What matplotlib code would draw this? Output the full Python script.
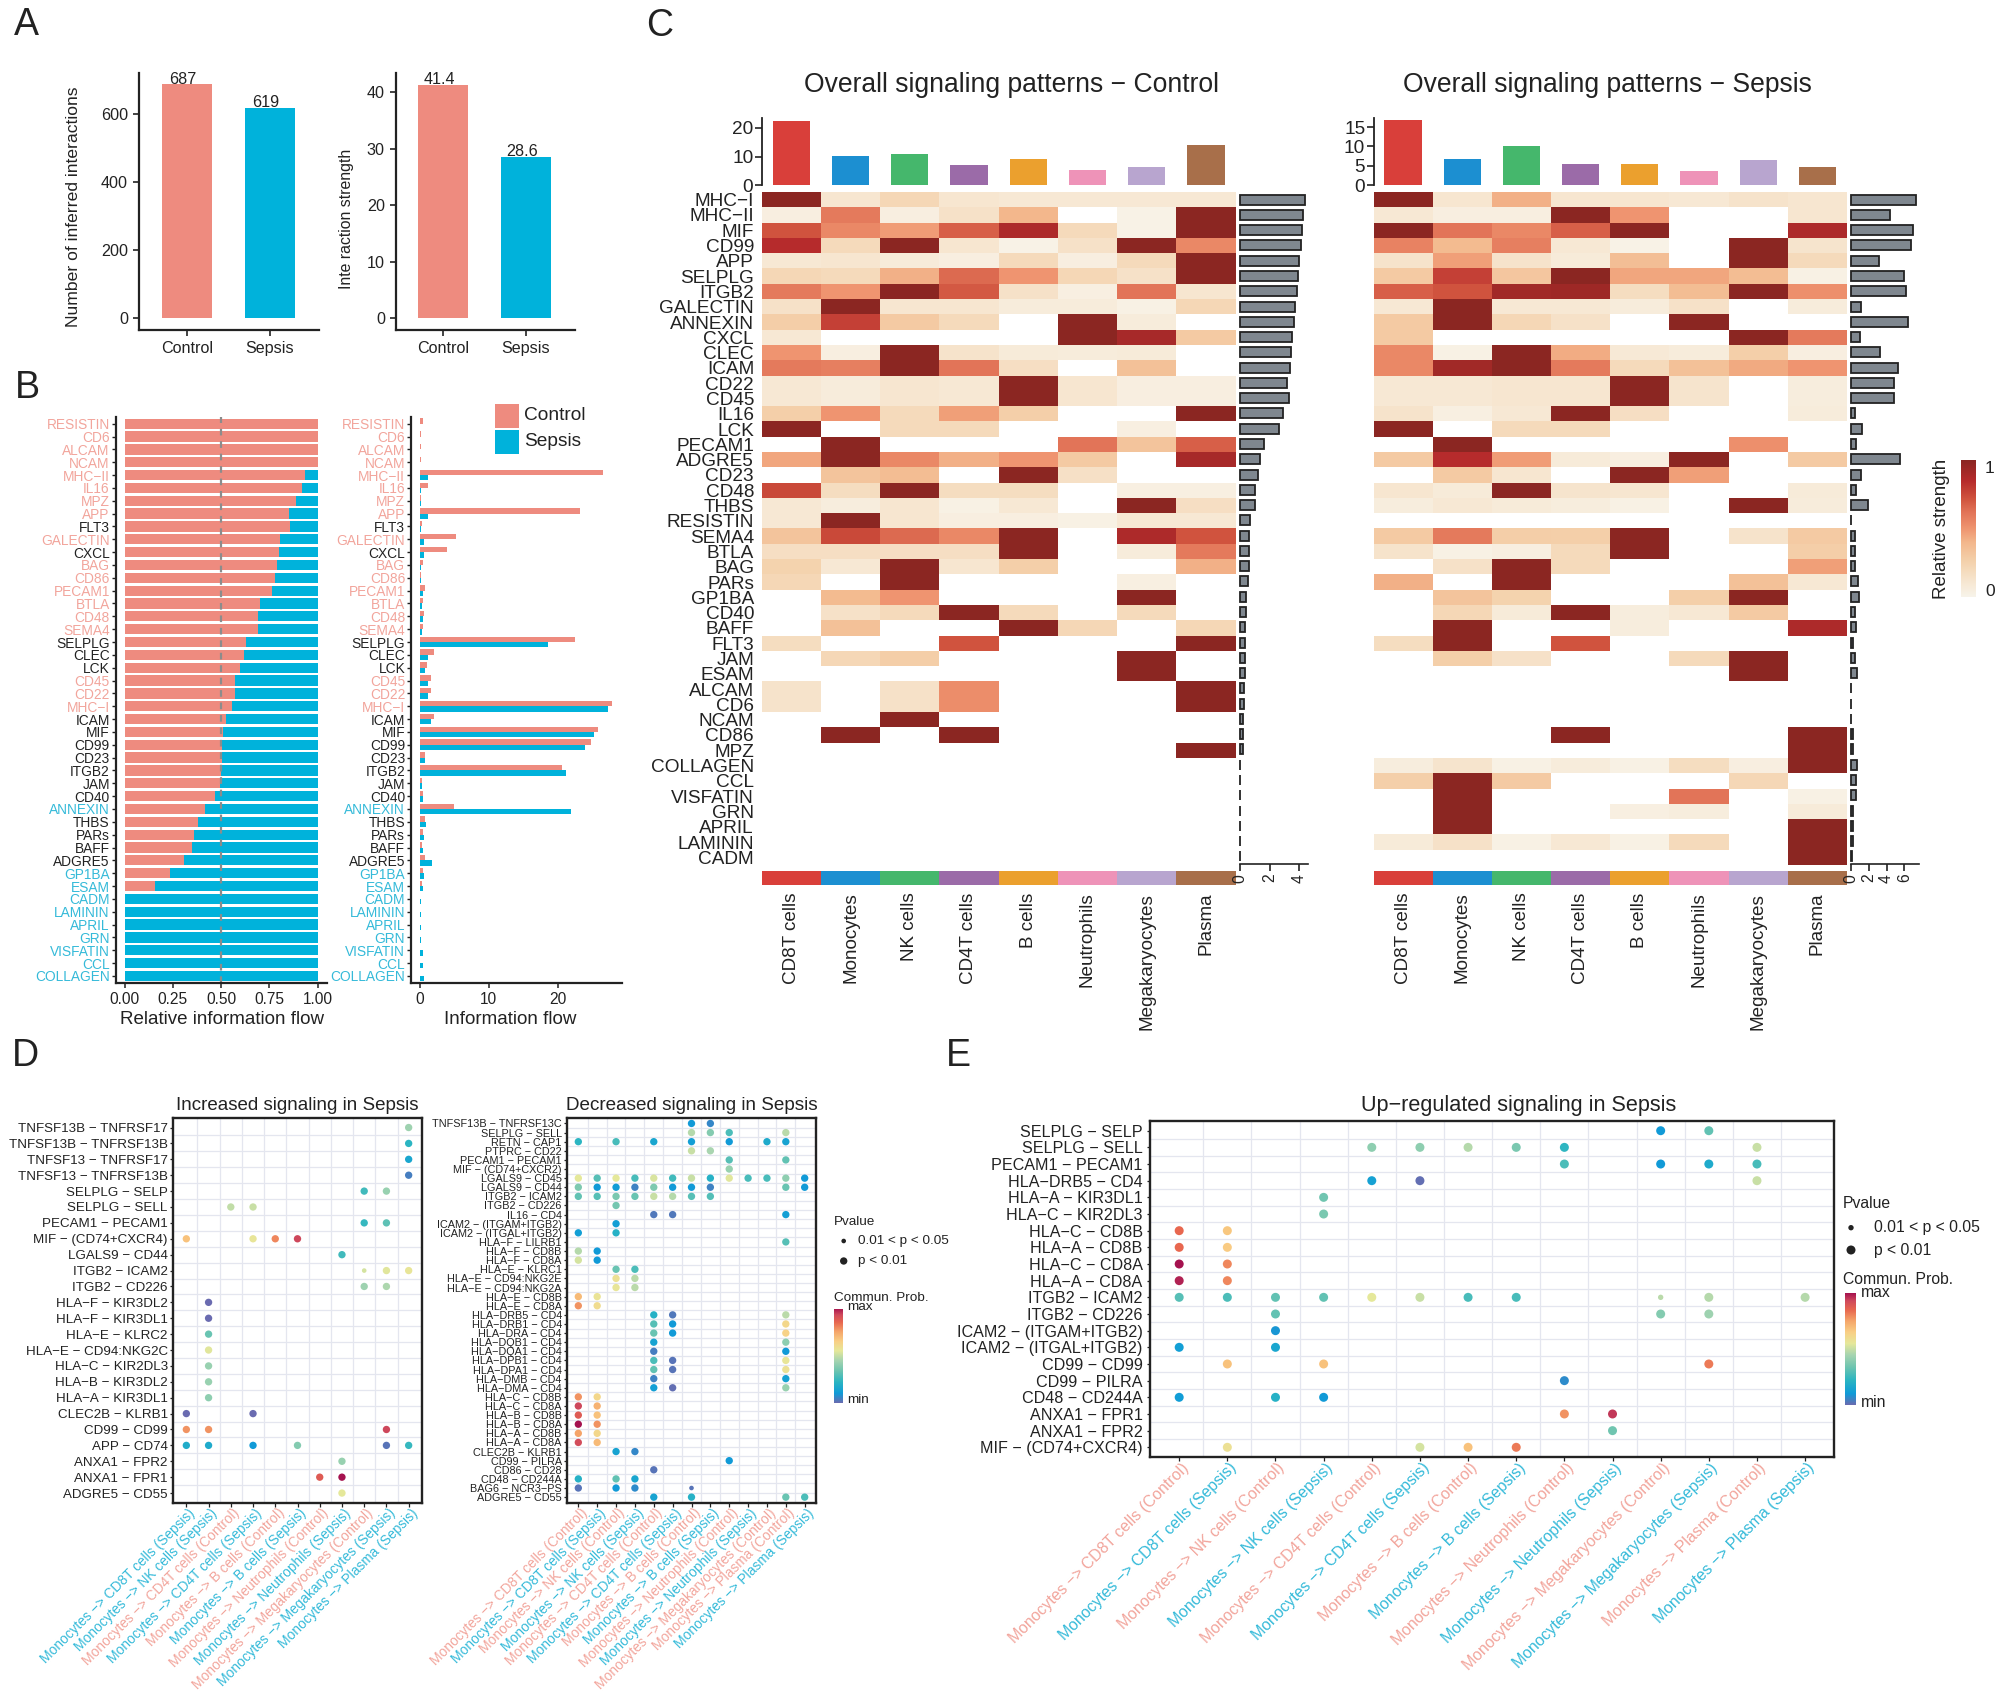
import numpy as np
import matplotlib
matplotlib.use("Agg")
import matplotlib.pyplot as plt
from matplotlib.colors import LinearSegmentedColormap
from matplotlib.patches import Rectangle
from matplotlib.transforms import ScaledTranslation

plt.rcParams['font.family'] = ['Liberation Sans', 'DejaVu Sans']

W, H = 1998, 1692
CTRL, SEPS = '#EE8B7F', '#00B2DB'
PINK, BLUE, DARK = '#F2A59C', '#35BAD9', '#222222'
nan = np.nan

# ---------- Panel A ----------
a_groups = ['Control', 'Sepsis']
a_counts = [687, 619]
a_strength = [41.4, 28.6]

# ---------- Panel B ----------
b_names = ['RESISTIN', 'CD6', 'ALCAM', 'NCAM', 'MHC\u2212II', 'IL16', 'MPZ', 'APP', 'FLT3', 'GALECTIN', 'CXCL',
           'BAG', 'CD86', 'PECAM1', 'BTLA', 'CD48', 'SEMA4', 'SELPLG', 'CLEC', 'LCK', 'CD45', 'CD22', 'MHC\u2212I',
           'ICAM', 'MIF', 'CD99', 'CD23', 'ITGB2', 'JAM', 'CD40', 'ANNEXIN', 'THBS', 'PARs', 'BAFF', 'ADGRE5',
           'GP1BA', 'ESAM', 'CADM', 'LAMININ', 'APRIL', 'GRN', 'VISFATIN', 'CCL', 'COLLAGEN']
b_rel_control = [1, 1, 1, 1, .936, .92, .89, .851, .855, .805, .798, .788, .781, .762, .70, .69, .69, .628, .618,
                 .597, .571, .571, .556, .524, .51, .505, .503, .499, .495, .467, .416, .38, .359, .348, .306,
                 .234, .157, 0, 0, 0, 0, 0, 0, 0]
b_flow_control = [.5, .2, .2, .2, 26.6, 1.1, .2, 23.2, .3, 5.2, 3.9, .4, .2, .8, .5, .6, .4, 22.5, 2.0, 1.0, 1.6,
                  1.6, 27.9, 2.0, 25.8, 24.8, .8, 20.6, .3, .4, 4.9, .7, .4, .3, .8, .4, .3, 0, 0, 0, 0, 0, 0, 0]
b_flow_sepsis = [0, 0, 0, 0, 1.2, .1, .1, 1.1, .1, .6, .6, .2, .1, .4, .3, .4, .3, 18.6, 1.1, .8, 1.2, 1.2, 27.2,
                 1.6, 25.2, 24.0, .7, 21.2, .3, .4, 21.9, .9, .6, .4, 1.7, .6, .5, .1, .2, .2, .2, .4, .5, .6]
b_pink = ['RESISTIN', 'CD6', 'ALCAM', 'NCAM', 'MHC\u2212II', 'IL16', 'MPZ', 'APP', 'GALECTIN', 'BAG', 'CD86',
          'PECAM1', 'BTLA', 'CD48', 'SEMA4', 'CD45', 'CD22', 'MHC\u2212I']
b_blue = ['ANNEXIN', 'GP1BA', 'ESAM', 'CADM', 'LAMININ', 'APRIL', 'GRN', 'VISFATIN', 'CCL', 'COLLAGEN']

# ---------- Panel C ----------
c_cells = ['CD8T cells', 'Monocytes', 'NK cells', 'CD4T cells', 'B cells', 'Neutrophils', 'Megakaryocytes', 'Plasma']
c_cell_colors = ['#D93F3A', '#1C8FD1', '#45B76C', '#9B6BA8', '#EBA02E', '#EE93B8', '#B8A5CF', '#A86F4A']
c_paths = ['MHC\u2212I', 'MHC\u2212II', 'MIF', 'CD99', 'APP', 'SELPLG', 'ITGB2', 'GALECTIN', 'ANNEXIN', 'CXCL', 'CLEC',
           'ICAM', 'CD22', 'CD45', 'IL16', 'LCK', 'PECAM1', 'ADGRE5', 'CD23', 'CD48', 'THBS', 'RESISTIN', 'SEMA4',
           'BTLA', 'BAG', 'PARs', 'GP1BA', 'CD40', 'BAFF', 'FLT3', 'JAM', 'ESAM', 'ALCAM', 'CD6', 'NCAM', 'CD86',
           'MPZ', 'COLLAGEN', 'CCL', 'VISFATIN', 'GRN', 'APRIL', 'LAMININ', 'CADM']
c_top_control = [22.5, 10.2, 10.9, 7.2, 9.1, 5.3, 6.2, 14.1]
c_top_sepsis = [16.7, 6.77, 10.1, 5.5, 5.5, 3.8, 6.4, 4.6]
c_side_control = [4.37, 4.29, 4.2, 4.09, 4.0, 3.91, 3.83, 3.74, 3.63, 3.54, 3.46, 3.37, 3.2, 3.29, 2.89, 2.66, 1.6,
                  1.37, 1.2, 1.0, 1.0, .69, .6, .6, .6, .51, .43, .43, .37, .37, .37, .31, .26, .26, .23, .23, .23,
                  0, 0, 0, 0, 0, 0, 0]
c_side_sepsis = [7.27, 4.4, 7.0, 6.7, 3.1, 5.9, 6.15, 1.07, 6.4, 1.0, 3.3, 5.3, 4.8, 4.8, .4, 1.27, .6, 5.56, 1.1,
                 .6, 1.95, 0, .45, .45, .4, .8, .9, .5, .55, .25, .4, .7, 0, 0, 0, .2, .2, .7, .6, .6, .25, .2, .2,
                 .15]
c_heat_control = [
    [1, .12, .22, .12, .1, .1, .1, .1],
    [.05, .6, .05, .15, .4, nan, .02, 1],
    [.72, .55, .48, .68, .88, .2, .02, 1],
    [.85, .2, 1, .12, .02, .15, 1, .55],
    [.1, .12, .08, .05, .2, .05, .2, 1],
    [.22, .2, .42, .65, .5, .22, .15, 1],
    [.6, .5, 1, .7, .15, .04, .62, .12],
    [.15, 1, .12, .12, .07, .07, .03, .22],
    [.28, .78, .3, .2, nan, 1, .07, nan],
    [.1, nan, nan, nan, nan, 1, .9, .3],
    [.5, .05, 1, .14, .08, .07, .08, nan],
    [.6, .58, 1, .62, .17, nan, .35, nan],
    [.1, .07, .12, .1, 1, .12, .05, .05],
    [.1, .07, .12, .1, 1, .12, .05, .05],
    [.27, .5, .2, .47, .27, nan, nan, 1],
    [1, nan, .2, .2, nan, nan, .04, nan],
    [nan, 1, nan, nan, nan, .62, .33, .68],
    [.45, 1, .55, .42, .5, .3, nan, .9],
    [nan, .33, .37, nan, 1, .16, nan, nan],
    [.75, .18, 1, .18, .18, nan, .04, .04],
    [.1, .06, .12, .03, .1, nan, 1, .17],
    [.1, 1, .12, .05, .05, .03, .1, .1],
    [.33, .75, .65, .55, 1, nan, .88, .72],
    [.17, .17, .17, .17, 1, nan, .07, .6],
    [.25, .1, 1, .12, .27, nan, nan, .42],
    [.22, nan, 1, nan, nan, nan, .04, nan],
    [nan, .38, .5, nan, nan, nan, 1, nan],
    [nan, .15, .2, 1, .2, nan, .2, nan],
    [nan, .35, nan, nan, 1, .22, nan, .22],
    [.18, nan, nan, .72, nan, nan, nan, 1],
    [nan, .22, .28, nan, nan, nan, 1, nan],
    [nan, nan, nan, nan, nan, nan, 1, nan],
    [.14, nan, .15, .53, nan, nan, nan, 1],
    [.14, nan, .15, .53, nan, nan, nan, 1],
    [nan, nan, 1, nan, nan, nan, nan, nan],
    [nan, 1, nan, 1, nan, nan, nan, nan],
    [nan, nan, nan, nan, nan, nan, nan, 1],
    [nan] * 8, [nan] * 8, [nan] * 8, [nan] * 8, [nan] * 8, [nan] * 8, [nan] * 8,
]
c_heat_sepsis = [
    [1, .12, .42, .12, .12, .1, .14, .12],
    [.1, .05, .05, 1, .5, nan, nan, .12],
    [1, .62, .55, .68, 1, nan, nan, .88],
    [.57, .38, .58, .1, .02, nan, 1, .13],
    [.14, .47, .14, .08, .36, nan, 1, .2],
    [.3, .78, .32, 1, .45, .45, .37, .03],
    [.68, .72, .92, .93, .18, .37, 1, .52],
    [.1, 1, .1, .1, .07, .15, nan, .07],
    [.3, 1, .22, .15, nan, 1, nan, nan],
    [.3, nan, nan, nan, nan, nan, 1, .6],
    [.55, .03, 1, .43, .09, .07, .27, .05],
    [.55, .92, 1, .6, .2, .35, .44, .5],
    [.1, .1, .12, .12, 1, .13, nan, .06],
    [.1, .1, .12, .12, 1, .13, nan, .06],
    [.14, .04, .1, 1, .17, nan, nan, .07],
    [1, nan, .2, .2, nan, nan, nan, nan],
    [nan, 1, nan, nan, nan, nan, .52, nan],
    [.3, .85, .48, .08, .05, 1, nan, .3],
    [nan, .3, .12, nan, 1, .47, nan, nan],
    [.12, .08, 1, .13, .12, nan, nan, .08],
    [.06, .1, .08, .06, .03, nan, 1, .07],
    [nan] * 8,
    [.3, .6, .28, .27, 1, nan, .14, .3],
    [.14, .03, .05, .2, 1, nan, nan, .28],
    [nan, .15, 1, .2, nan, nan, nan, .47],
    [.42, nan, 1, nan, nan, nan, .35, .1],
    [nan, .33, .25, nan, nan, .27, 1, nan],
    [nan, .22, .08, 1, .06, .1, .3, nan],
    [nan, 1, nan, nan, .06, nan, nan, .88],
    [.18, 1, nan, .72, nan, nan, nan, nan],
    [nan, .27, .15, nan, nan, .2, 1, nan],
    [nan, nan, nan, nan, nan, nan, 1, nan],
    [nan] * 8, [nan] * 8, [nan] * 8,
    [nan, nan, nan, 1, nan, nan, nan, 1],
    [nan, nan, nan, nan, nan, nan, nan, 1],
    [.06, .13, .03, .07, .03, .18, .05, 1],
    [.27, 1, .3, nan, nan, nan, .22, nan],
    [nan, 1, nan, nan, nan, .62, nan, .03],
    [nan, 1, nan, nan, .04, .06, nan, .08],
    [nan, 1, nan, nan, nan, nan, nan, 1],
    [.08, .15, .03, .1, .03, .2, nan, 1],
    [nan, nan, nan, nan, nan, nan, nan, 1],
]


def m(a):
    return 'Monocytes \u2212> ' + a

# ---------- Panel D left ----------
d1_cols = ['CD8T cells (Sepsis)', 'NK cells (Sepsis)', 'CD4T cells (Control)', 'CD4T cells (Sepsis)',
           'B cells (Control)', 'B cells (Sepsis)', 'Neutrophils (Control)', 'Neutrophils (Sepsis)',
           'Megakaryocytes (Control)', 'Megakaryocytes (Sepsis)', 'Plasma (Sepsis)']
d1_rows = ['TNFSF13B \u2212 TNFRSF17', 'TNFSF13B \u2212 TNFRSF13B', 'TNFSF13 \u2212 TNFRSF17', 'TNFSF13 \u2212 TNFRSF13B',
           'SELPLG \u2212 SELP', 'SELPLG \u2212 SELL', 'PECAM1 \u2212 PECAM1', 'MIF \u2212 (CD74+CXCR4)', 'LGALS9 \u2212 CD44',
           'ITGB2 \u2212 ICAM2', 'ITGB2 \u2212 CD226', 'HLA\u2212F \u2212 KIR3DL2', 'HLA\u2212F \u2212 KIR3DL1',
           'HLA\u2212E \u2212 KLRC2', 'HLA\u2212E \u2212 CD94:NKG2C', 'HLA\u2212C \u2212 KIR2DL3', 'HLA\u2212B \u2212 KIR3DL2',
           'HLA\u2212A \u2212 KIR3DL1', 'CLEC2B \u2212 KLRB1', 'CD99 \u2212 CD99', 'APP \u2212 CD74', 'ANXA1 \u2212 FPR2',
           'ANXA1 \u2212 FPR1', 'ADGRE5 \u2212 CD55']
d1_vals = [{11: .43}, {11: .22}, {11: .15}, {11: .04}, {9: .26, 10: .42}, {3: .49, 4: .5}, {9: .24, 10: .31},
           {1: .68, 4: .56, 5: .8, 6: .93}, {8: .26}, {9: .52, 10: .54, 11: .56}, {9: .43, 10: .46}, {2: 0}, {2: 0},
           {2: .33}, {2: .54}, {2: .42}, {2: .42}, {2: .4}, {1: 0, 4: 0}, {1: .78, 2: .78, 10: .93},
           {1: .18, 2: .17, 4: .1, 6: .38, 10: .02, 11: .24}, {8: .42}, {7: .88, 8: 1}, {8: .55}]
d1_small = [(9, 9)]

# ---------- Panel D right ----------
d2_cols = ['CD8T cells (Control)', 'CD8T cells (Sepsis)', 'NK cells (Control)', 'NK cells (Sepsis)',
           'CD4T cells (Control)', 'CD4T cells (Sepsis)', 'B cells (Control)', 'B cells (Sepsis)',
           'Neutrophils (Control)', 'Neutrophils (Sepsis)', 'Megakaryocytes (Control)', 'Plasma (Control)',
           'Plasma (Sepsis)']
d2_rows = ['TNFSF13B \u2212 TNFRSF13C', 'SELPLG \u2212 SELL', 'RETN \u2212 CAP1', 'PTPRC \u2212 CD22', 'PECAM1 \u2212 PECAM1',
           'MIF \u2212 (CD74+CXCR2)', 'LGALS9 \u2212 CD45', 'LGALS9 \u2212 CD44', 'ITGB2 \u2212 ICAM2', 'ITGB2 \u2212 CD226',
           'IL16 \u2212 CD4', 'ICAM2 \u2212 (ITGAM+ITGB2)', 'ICAM2 \u2212 (ITGAL+ITGB2)', 'HLA\u2212F \u2212 LILRB1',
           'HLA\u2212F \u2212 CD8B', 'HLA\u2212F \u2212 CD8A', 'HLA\u2212E \u2212 KLRC1', 'HLA\u2212E \u2212 CD94:NKG2E',
           'HLA\u2212E \u2212 CD94:NKG2A', 'HLA\u2212E \u2212 CD8B', 'HLA\u2212E \u2212 CD8A', 'HLA\u2212DRB5 \u2212 CD4',
           'HLA\u2212DRB1 \u2212 CD4', 'HLA\u2212DRA \u2212 CD4', 'HLA\u2212DQB1 \u2212 CD4', 'HLA\u2212DQA1 \u2212 CD4',
           'HLA\u2212DPB1 \u2212 CD4', 'HLA\u2212DPA1 \u2212 CD4', 'HLA\u2212DMB \u2212 CD4', 'HLA\u2212DMA \u2212 CD4',
           'HLA\u2212C \u2212 CD8B', 'HLA\u2212C \u2212 CD8A', 'HLA\u2212B \u2212 CD8B', 'HLA\u2212B \u2212 CD8A',
           'HLA\u2212A \u2212 CD8B', 'HLA\u2212A \u2212 CD8A', 'CLEC2B \u2212 KLRB1', 'CD99 \u2212 PILRA', 'CD86 \u2212 CD28',
           'CD48 \u2212 CD244A', 'BAG6 \u2212 NCR3\u2212PS', 'ADGRE5 \u2212 CD55']
d2_vals = [{7: .1, 8: .06}, {7: .47, 8: .38, 9: .28, 12: .48}, {1: .22, 3: .27, 5: .15, 7: .12, 9: .1, 11: .17, 12: .14},
           {7: .5, 8: .45}, {9: .3, 12: .32}, {9: .42},
           {1: .55, 2: .3, 3: .55, 4: .27, 5: .53, 6: .26, 7: .5, 8: .2, 9: .54, 10: .27, 11: .27, 12: .4, 13: .1},
           {1: .37, 2: .1, 3: .11, 4: .05, 5: .37, 6: .1, 7: .1, 8: .05, 12: .33, 13: .1},
           {1: .32, 2: .3, 3: .36, 4: .33, 5: .5, 6: .47, 7: .3, 8: .29}, {3: .35}, {5: .03, 6: .03, 12: .12}, {3: .12},
           {1: .12, 3: .2}, {12: .3}, {1: .47, 2: .1}, {1: .52, 2: .1}, {3: .33, 4: .28}, {3: .58, 4: .48},
           {3: .56, 4: .48}, {1: .7, 2: .57}, {1: .78, 2: .6}, {5: .2, 6: .03, 12: .48}, {5: .3, 6: .1, 12: .62},
           {5: .33, 6: .1, 12: .64}, {5: .14, 12: .4}, {5: .04, 12: .1}, {5: .28, 6: .02, 12: .56},
           {5: .32, 6: .02, 12: .58}, {5: .05, 12: .13}, {5: .12, 6: .01, 12: .42}, {1: .78, 2: .62}, {1: .93, 2: .72},
           {1: .88, 2: .68}, {1: 1, 2: .78}, {1: .75, 2: .62}, {1: .92, 2: .7}, {3: .14, 4: .06}, {9: .1}, {5: .02},
           {1: .2, 3: .32, 4: .15}, {1: .02, 3: .1, 4: .07, 7: .02}, {5: .14, 7: .2, 12: .33, 13: .28}]
d2_small = [(40, 7)]

# ---------- Panel E ----------
e_cols = ['CD8T cells (Control)', 'CD8T cells (Sepsis)', 'NK cells (Control)', 'NK cells (Sepsis)',
          'CD4T cells (Control)', 'CD4T cells (Sepsis)', 'B cells (Control)', 'B cells (Sepsis)',
          'Neutrophils (Control)', 'Neutrophils (Sepsis)', 'Megakaryocytes (Control)', 'Megakaryocytes (Sepsis)',
          'Plasma (Control)', 'Plasma (Sepsis)']
e_rows = ['SELPLG \u2212 SELP', 'SELPLG \u2212 SELL', 'PECAM1 \u2212 PECAM1', 'HLA\u2212DRB5 \u2212 CD4', 'HLA\u2212A \u2212 KIR3DL1',
          'HLA\u2212C \u2212 KIR2DL3', 'HLA\u2212C \u2212 CD8B', 'HLA\u2212A \u2212 CD8B', 'HLA\u2212C \u2212 CD8A', 'HLA\u2212A \u2212 CD8A',
          'ITGB2 \u2212 ICAM2', 'ITGB2 \u2212 CD226', 'ICAM2 \u2212 (ITGAM+ITGB2)', 'ICAM2 \u2212 (ITGAL+ITGB2)', 'CD99 \u2212 CD99',
          'CD99 \u2212 PILRA', 'CD48 \u2212 CD244A', 'ANXA1 \u2212 FPR1', 'ANXA1 \u2212 FPR2', 'MIF \u2212 (CD74+CXCR4)']
e_vals = [{11: .1, 12: .32}, {5: .4, 6: .4, 7: .47, 8: .36, 9: .23, 13: .5}, {9: .28, 11: .1, 12: .17, 13: .27},
          {5: .13, 6: .01, 13: .5}, {4: .34}, {4: .36}, {1: .85, 2: .67}, {1: .85, 2: .66}, {1: 1, 2: .8},
          {1: .98, 2: .8}, {1: .3, 2: .28, 3: .32, 4: .32, 5: .55, 6: .5, 7: .27, 8: .27, 11: .48, 12: .47, 14: .47},
          {3: .32, 11: .38, 12: .43}, {3: .09}, {1: .12, 3: .15}, {2: .68, 4: .68, 12: .82}, {9: .07},
          {1: .11, 3: .2, 4: .1}, {9: .78, 10: .95}, {10: .34}, {2: .58, 6: .52, 7: .68, 8: .82}]
e_small = [(10, 11)]

heat_cmap = LinearSegmentedColormap.from_list('heat', [
    (0, '#F8F4EA'), (.1, '#F7E8D4'), (.25, '#F4D3AE'), (.4, '#F3B78C'), (.5, '#EF9570'), (.62, '#E27458'),
    (.72, '#D0533E'), (.85, '#B62B2C'), (1, '#8B2622')])
spec_cmap = LinearSegmentedColormap.from_list('spec', [
    (0, '#6A6BB0'), (.1, '#0F9BD8'), (.22, '#2BB5C2'), (.34, '#6FC5B0'), (.45, '#A8D5B0'), (.55, '#E6E89A'),
    (.65, '#F9CF85'), (.75, '#F5A66A'), (.85, '#E8674F'), (.93, '#D04A5C'), (1, '#A5124F')])

fig = plt.figure(figsize=(W / 100, H / 100), dpi=100, facecolor='white')


def axpx(x0, y0, x1, y1, **kw):
    return fig.add_axes([x0 / W, 1 - y1 / H, (x1 - x0) / W, (y1 - y0) / H], **kw)


def ftext(x, y, s, **kw):
    kw.setdefault('color', DARK)
    return fig.text(x / W, 1 - y / H, s, **kw)


def classic(ax, lw=1.6):
    for s in ['top', 'right']:
        ax.spines[s].set_visible(False)
    for s in ['left', 'bottom']:
        ax.spines[s].set_linewidth(lw)
        ax.spines[s].set_color(DARK)


def label_y(ax, s, x, y, size):
    ax.set_ylabel(s, fontsize=size, color=DARK)
    ax.yaxis.set_label_coords(x / W, 1 - y / H, transform=fig.transFigure)


def label_x(ax, s, x, y, size):
    ax.set_xlabel(s, fontsize=size, color=DARK)
    ax.xaxis.set_label_coords(x / W, 1 - y / H, transform=fig.transFigure)
    ax.xaxis.label.set_va('center')


# ---- letters ----
for s, x, y in [('A', 26, 25), ('B', 27, 388), ('C', 660, 26), ('D', 25, 1056), ('E', 958, 1056)]:
    ftext(x, y, s, fontsize=27, ha='center', va='center')


# ---- Panel A ----
def panel_a(rect, vals, ylim, ticks, ylab, ylabx, ylaby, fmt, x0, lab_fs):
    ax = axpx(*rect)
    ax.bar(range(2), vals, width=0.6, color=[CTRL, SEPS])
    ax.set_ylim(*ylim)
    ax.set_xlim(x0, x0 + 2.17)
    ax.set_yticks(ticks)
    ax.set_xticks(range(2), a_groups)
    ax.tick_params(labelsize=11.6, length=4, width=1.2, color=DARK, labelcolor=DARK, pad=4)
    classic(ax)
    for i, v in enumerate(vals):
        ax.text(i - 0.05, v, fmt % v, ha='center', va='bottom', fontsize=11.6, color=DARK, linespacing=1,
                transform=ax.transData + ScaledTranslation(0, -2 / 72, fig.dpi_scale_trans))
    label_y(ax, ylab, ylabx, ylaby, lab_fs)


panel_a((139, 72.7, 319, 330), a_counts, (-12 / 0.34 / 1, 245.3 / 0.34), [0, 200, 400, 600],
        'Number of inferred interactions', 81, 207, '%d', -0.58, 12.6)
panel_a((396, 72.7, 575.4, 330), a_strength, (-12 / 5.64, 245.3 / 5.64), [0, 10, 20, 30, 40],
        'Inte raction strength', 354, 219, '%.1f', -0.57, 11.4)

# ---- Panel B ----
by = np.arange(len(b_names))
rel_c = np.array(b_rel_control)
axb1 = axpx(115.6, 417, 327, 983)
axb1.barh(by, rel_c, height=0.8, color=CTRL)
axb1.barh(by, 1 - rel_c, left=rel_c, height=0.8, color=SEPS)
axb1.axvline(0.5, color='#8C8C8C', ls=(0, (3, 2.6)), lw=1.6)
axb1.set_xlim(-0.0466, 1.0487)
axb1.set_xticks([0, .25, .5, .75, 1], ['0.00', '0.25', '0.50', '0.75', '1.00'])
label_x(axb1, 'Relative information flow', 222, 1019, 13.5)

axb2 = axpx(411, 417, 622, 983)
axb2.barh(by - 0.21, b_flow_control, height=0.42, color=CTRL)
axb2.barh(by + 0.21, b_flow_sepsis, height=0.42, color=SEPS)
axb2.set_xlim(-1.3, 29.3)
axb2.set_xticks([0, 10, 20])
label_x(axb2, 'Information flow', 510, 1019, 13.5)

for ax in (axb1, axb2):
    ax.set_ylim(43.55, -0.52)
    ax.set_yticks(by, b_names)
    ax.tick_params(axis='y', labelsize=9.9, length=3, width=1, color=DARK, pad=1.2)
    ax.tick_params(axis='x', labelsize=11.2, length=3.5, width=1.1, color=DARK, labelcolor=DARK, pad=3)
    classic(ax)
    for t, n in zip(ax.get_yticklabels(), b_names):
        t.set_color(PINK if n in b_pink else BLUE if n in b_blue else DARK)


# ---- Panel C ----
def panel_c(xl, xr, heat, top, side, top_ticks, top_ymax, title, title_x, sx0, sx_scale, sx_max, side_ticks, rowlabels):
    n = len(c_paths)
    axh = axpx(xl, 192, xr, 865)
    arr = np.ma.masked_invalid(np.array(heat, float))
    axh.pcolormesh(np.arange(9), np.arange(n + 1), arr, cmap=heat_cmap, vmin=0, vmax=1, linewidth=0, rasterized=True)
    axh.set_xlim(0, 8)
    axh.set_ylim(n, 0)
    axh.set_xticks([])
    for s in axh.spines.values():
        s.set_visible(False)
    if rowlabels:
        axh.set_yticks(np.arange(n) + .5, c_paths)
        axh.tick_params(axis='y', length=0, labelsize=13.7, labelcolor=DARK, pad=5.5)
    else:
        axh.set_yticks([])

    axt = axpx(xl, 117.7, xr, 185.3)
    axt.bar(np.arange(8) + .5, top, width=0.63, color=c_cell_colors)
    axt.set_xlim(0, 8)
    axt.set_ylim(0, top_ymax)
    axt.set_yticks(top_ticks)
    axt.set_xticks([])
    axt.tick_params(axis='y', labelsize=13.7, length=5, width=1.2, color=DARK, labelcolor=DARK, pad=1)
    classic(axt, 1.3)
    axt.spines['bottom'].set_visible(False)
    axt.patch.set_alpha(0)

    axs = axpx(xl, 871, xr, 885)
    axs.bar(np.arange(8) + .5, [1] * 8, width=1, color=c_cell_colors)
    axs.set_xlim(0, 8)
    axs.set_ylim(0, 1)
    axs.set_yticks([])
    axs.set_xticks(np.arange(8) + .5, c_cells, rotation=90)
    axs.tick_params(axis='x', length=0, labelsize=13.6, labelcolor=DARK, pad=5.5)
    for s in axs.spines.values():
        s.set_visible(False)

    axr = axpx(sx0, 192, sx0 + sx_max * sx_scale, 864)
    bars = axr.barh(np.arange(n) + .5, side, height=.66, color='#7F878F', edgecolor='#222222', linewidth=1.3)
    for b in bars:
        b.set_clip_on(False)
    axr.set_xlim(0, sx_max)
    axr.set_ylim(n, 0)
    axr.set_yticks([])
    axr.set_xticks(side_ticks)
    axr.tick_params(axis='x', labelsize=11.3, length=5, width=1.2, color=DARK, labelcolor=DARK, pad=2, labelrotation=90)
    for s in ['top', 'right', 'left']:
        axr.spines[s].set_visible(False)
    axr.spines['bottom'].set_linewidth(1.2)
    axr.spines['bottom'].set_color(DARK)
    axr.patch.set_alpha(0)

    ftext(title_x, 85, title, fontsize=19.1, ha='center', va='center')


panel_c(761.7, 1235.5, c_heat_control, c_top_control, c_side_control, [0, 10, 20], 23.5,
        'Overall signaling patterns \u2212 Control', 1012, 1240, 14.8, 4.57, [0, 2, 4], True)
panel_c(1373.5, 1847, c_heat_sepsis, c_top_sepsis, c_side_sepsis, [0, 5, 10, 15], 17.4,
        'Overall signaling patterns \u2212 Sepsis', 1607, 1851, 8.9, 7.6, [0, 2, 4, 6], False)

axcb = axpx(1961, 460, 1976, 597)
axcb.imshow(np.linspace(1, 0, 256)[:, None], cmap=heat_cmap, aspect='auto')
axcb.axis('off')
ftext(1985, 468, '1', fontsize=12.5, ha='left', va='center')
ftext(1985, 591, '0', fontsize=12.5, ha='left', va='center')
ftext(1942, 529, 'Relative strength', fontsize=13.5, rotation=90, ha='center', va='center')


# ---- Bubble panels ----
def bubble(rect, rows, cols, vals, small, fs_y, fs_x, s_big, s_small, title, title_x, title_y, title_fs, dx, tick_pad):
    ax = axpx(*rect)
    nr, nc = len(rows), len(cols)
    for k in np.arange(nr - 1) + .5:
        ax.axhline(k, color='#E4E6EF', lw=.9, zorder=1)
    for k in np.arange(nc - 1) + .5:
        ax.axvline(k, color='#E4E6EF', lw=.9, zorder=1)
    xs, ys, cs, ss = [], [], [], []
    for r, d in enumerate(vals):
        for c, v in d.items():
            xs.append(c - 1)
            ys.append(r)
            cs.append(v)
            ss.append(s_small if (r, c) in small else s_big)
    ax.scatter(xs, ys, c=cs, s=ss, cmap=spec_cmap, vmin=0, vmax=1, linewidths=0, zorder=3)
    ax.set_xlim(-.6, nc - 1 + .6)
    ax.set_ylim(nr - 1 + .6, -.6)
    ax.set_yticks(range(nr), rows)
    ax.set_xticks(range(nc), [m(c) for c in cols], rotation=45, ha='right', rotation_mode='anchor', va='center')
    ax.tick_params(axis='y', labelsize=fs_y, length=2.5, width=.9, color=DARK, labelcolor=DARK, pad=tick_pad)
    ax.tick_params(axis='x', labelsize=fs_x, length=3, width=.9, color=DARK, pad=3)
    off = ScaledTranslation(dx / 72, 0, fig.dpi_scale_trans)
    for t, c in zip(ax.get_xticklabels(), cols):
        t.set_color(PINK if 'Control' in c else BLUE)
        t.set_transform(t.get_transform() + off)
    for s in ax.spines.values():
        s.set_linewidth(1.7)
        s.set_color(DARK)
    ftext(title_x, title_y, title, fontsize=title_fs, ha='center', va='center')
    return ax


bubble((173, 1118, 422, 1502.6), d1_rows, d1_cols, d1_vals, d1_small, 9.6, 9.9, 28, 11,
       'Increased signaling in Sepsis', 297, 1105, 13.5, 5, 1.2)
bubble((567, 1118, 816, 1502.6), d2_rows, d2_cols, d2_vals, d2_small, 7.8, 9.9, 28, 11,
       'Decreased signaling in Sepsis', 692, 1105, 13.6, 5, 1.2)
bubble((1150.3, 1120.7, 1834, 1457.3), e_rows, e_cols, e_vals, e_small, 11.6, 11.4, 42, 15,
       'Up\u2212regulated signaling in Sepsis', 1519, 1105, 15.6, 5, 3)

# ---- overlay legends ----
ov = fig.add_axes([0, 0, 1, 1], zorder=10)
ov.set_xlim(0, W)
ov.set_ylim(H, 0)
ov.axis('off')
ov.add_patch(Rectangle((495, 404), 24, 24, color=CTRL, lw=0))
ov.add_patch(Rectangle((495, 430), 24, 24, color=SEPS, lw=0))
ftext(524, 415, 'Control', fontsize=13.8, va='center', ha='left')
ftext(524, 441, 'Sepsis', fontsize=13.8, va='center', ha='left')


def bubble_legend(x, ytitle, xdot, y1, y2, xtxt, s_small, s_big, ycomm, cbx0, cbx1, cby0, cby1, xm, ymax, ymin, fs):
    ftext(x, ytitle, 'Pvalue', fontsize=fs, va='center', ha='left')
    ov.scatter([xdot, xdot], [y1, y2], s=[s_small, s_big], c=DARK, linewidths=0)
    ftext(xtxt, y1, '0.01 < p < 0.05', fontsize=fs, va='center', ha='left')
    ftext(xtxt, y2, 'p < 0.01', fontsize=fs, va='center', ha='left')
    ftext(x, ycomm, 'Commun. Prob.', fontsize=fs, va='center', ha='left')
    ftext(xm, ymax, 'max', fontsize=fs, va='center', ha='left')
    ftext(xm, ymin, 'min', fontsize=fs, va='center', ha='left')
    cb = axpx(cbx0, cby0, cbx1, cby1, zorder=11)
    cb.imshow(np.linspace(1, 0, 256)[:, None], cmap=spec_cmap, aspect='auto')
    cb.axis('off')


bubble_legend(834, 1222, 843.7, 1241, 1261, 857.7, 11, 28, 1297.6, 834, 842.7, 1308.5, 1403, 846.7, 1307, 1399.5, 9.7)
bubble_legend(1843, 1203.7, 1851, 1227.7, 1250, 1874, 15, 42, 1280, 1844.5, 1855, 1293, 1405, 1861, 1292, 1402.7, 11.3)

fig.savefig('out.png', dpi=100)
